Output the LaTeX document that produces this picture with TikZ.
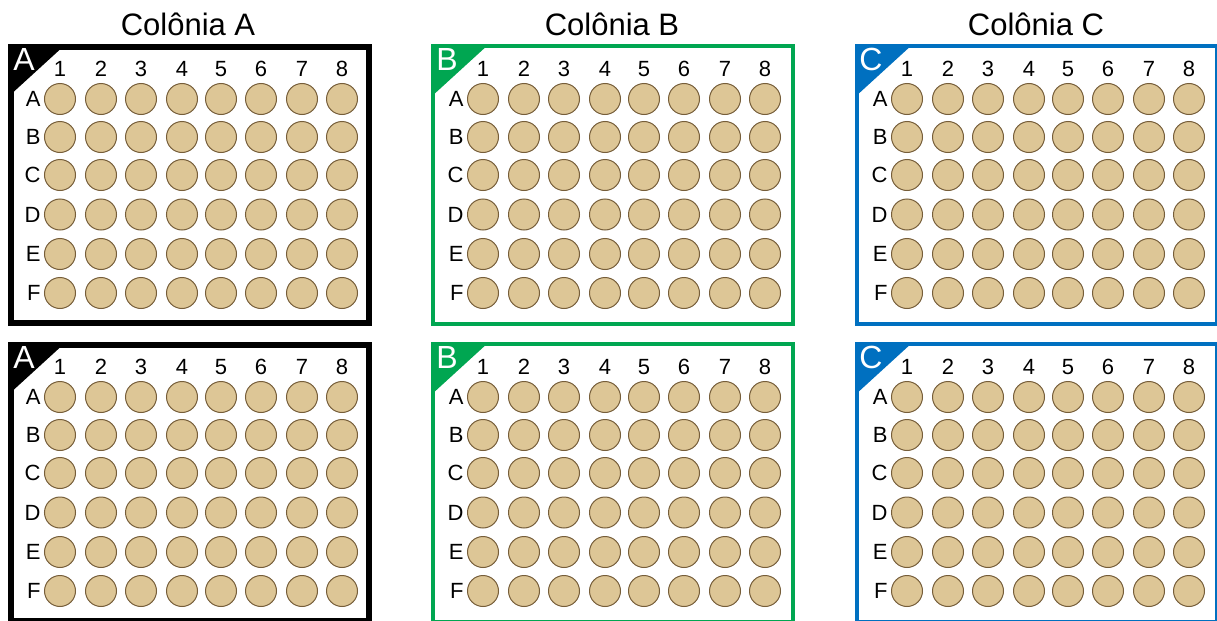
\documentclass[tikz,border=0pt]{standalone}
\usepackage{fontspec}
\setmainfont{Liberation Sans}
\usetikzlibrary{positioning}

\definecolor{wellfill}{RGB}{221,198,150}
\definecolor{welldraw}{RGB}{118,94,58}
\definecolor{platgreen}{RGB}{0,166,81}
\definecolor{platblue}{RGB}{0,112,192}

\tikzset{
  well/.style={circle, minimum size=15.5pt, inner sep=0pt,
               fill=wellfill, draw=welldraw, line width=0.5pt},
  lbl/.style={inner sep=0pt, font=\fontsize{11pt}{13pt}\selectfont},
  cornerlbl/.style={inner sep=0pt, text=white, font=\fontsize{16pt}{18pt}\selectfont},
  titlelbl/.style={inner sep=0pt, anchor=base, font=\fontsize{15.5pt}{18pt}\selectfont}
}

% #1 name, #2 left, #3 top, #4 colour, #5 frame width (px), #6 letter
\newcommand{\drawplate}[6]{
  \draw[#4, line width=#5*0.5pt] (#2+#5/2, #3+#5/2) rectangle (#2+364-#5/2, #3+282-#5/2);
  \fill[#4] (#2, #3) -- (#2+58, #3) -- (#2, #3+53) -- cycle;
  \node[cornerlbl] (#1-tag) at (#2+16, #3+15) {#6};
  \foreach \cx [count=\i] in {52,93,133,174,213,253,294,334} {
    \node[lbl] (#1-col\i) at (#2+\cx, #3+25) {\i};
    \foreach \rl/\ry in {A/55, B/93, C/131, D/170.5, E/210, F/249}
      \node[well] (#1-\rl\i) at (#2+\cx, #3+\ry) {};
  }
  \foreach \rl/\ry in {A/55, B/93, C/131, D/170.5, E/210, F/249}
    \node[lbl, left=1.5pt of #1-\rl1] (#1-row\rl) {\rl};
}

\begin{document}
\begin{tikzpicture}[x=0.5pt, y=-0.5pt]
  \useasboundingbox (0, 0) rectangle (1217, 621);
  \clip (0, 0) rectangle (1217, 621);

  \node[titlelbl] (titA) at (188, 35)  {Colônia A};
  \node[titlelbl] (titB) at (612, 35)  {Colônia B};
  \node[titlelbl] (titC) at (1036, 35) {Colônia C};

  % top row of plates
  \drawplate{pA1}{8}{44}{black}{6}{A}
  \drawplate{pB1}{431}{44}{platgreen}{4}{B}
  \drawplate{pC1}{855}{44}{platblue}{4}{C}

  % bottom row of plates
  \drawplate{pA2}{8}{342}{black}{6}{A}
  \drawplate{pB2}{431}{342}{platgreen}{4}{B}
  \drawplate{pC2}{855}{342}{platblue}{4}{C}
\end{tikzpicture}
\end{document}
